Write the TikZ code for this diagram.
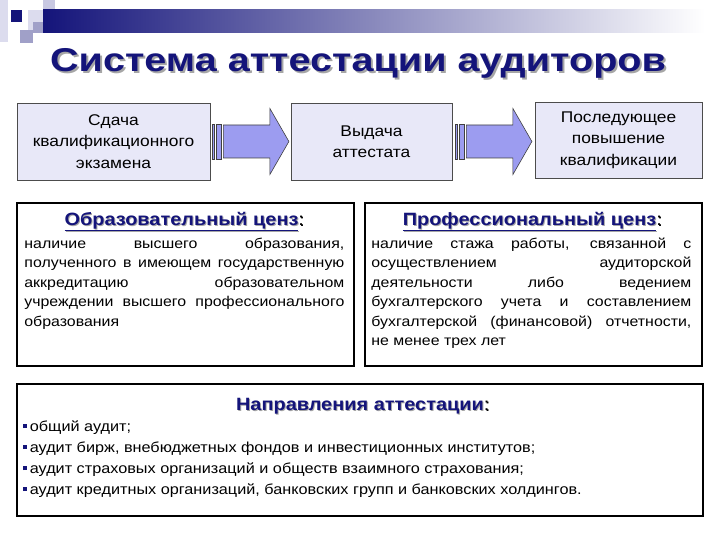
\documentclass[tikz,border=0pt]{standalone}
\usepackage{fontspec}
\setmainfont{Liberation Sans}[FakeStretch=1.12]
\newfontfamily\titlefont{Liberation Sans}[FakeStretch=1.2]
\usetikzlibrary{calc}
\definecolor{navy}{HTML}{14147A}
\definecolor{boxfill}{HTML}{E8E8F8}
\definecolor{arrowfill}{HTML}{9C9CF0}
\definecolor{sqlight}{HTML}{DCDCEE}
\definecolor{sqmid}{HTML}{A0A0C8}
\definecolor{sqpale}{HTML}{C8C8E2}
\newcommand\blockarrow[1]{%
  \begin{scope}[shift={#1}]
    \draw[arrowstyle] (0,-17.5) rectangle (2.5,17.5);
    \draw[arrowstyle] (4,-17.5) rectangle (9.5,17.5);
    \draw[arrowstyle] (11.5,-16.5) -- (58,-16.5) -- (58,-33) -- (77,0) -- (58,33) -- (58,16.5) -- (11.5,16.5) -- cycle;
  \end{scope}}
\newcommand\hdtext[1]{\underline{#1}}
\begin{document}
\begin{tikzpicture}[x=1pt,y=-1pt,
  arrowstyle/.style={draw=black!75, line width=0.6pt, fill=arrowfill},
  topbox/.style={draw=black!70, line width=0.8pt, fill=boxfill, align=center, inner sep=0pt,
    font=\fontsize{15.5}{21.5}\selectfont},
  infobox/.style={draw=black, line width=1.6pt, fill=white, inner sep=0pt},
  heading/.style={anchor=base, inner sep=0pt, font=\bfseries\fontsize{17.8}{20}\selectfont},
  bodytext/.style={anchor=north west, inner sep=0pt, align=justify,
    font=\fontsize{14.2}{19.4}\selectfont},
  listtext/.style={anchor=base west, inner sep=0pt, font=\fontsize{14.5}{21}\selectfont}
]
\useasboundingbox (0,0) rectangle (720,540);
% decoration
\fill[sqlight] (0,0) rectangle (8,42);
\fill[sqpale] (43,0) rectangle (55,12);
\fill[sqlight] (28,10) rectangle (43,30);
\fill[sqmid] (20,30) rectangle (33,43);
\fill[sqmid] (33,22) rectangle (43,33);
\shade[left color=navy, right color=white] (43,10) rectangle (705,33);
\fill[navy] (11,10) rectangle (22,22);
% title
\node[anchor=base, inner sep=0pt, text=black!35, font=\titlefont\bfseries\fontsize{33}{36}\selectfont] at (360,74) {Система аттестации аудиторов};
\node[anchor=base, inner sep=0pt, text=navy, font=\titlefont\bfseries\fontsize{33}{36}\selectfont] (title) at (358,72) {Система аттестации аудиторов};
% top boxes
\node[topbox, minimum width=193, minimum height=77] (b1) at (113.5,141.5) {Сдача\\квалификационного\\экзамена};
\node[topbox, minimum width=161, minimum height=77] (b2) at (371.5,141.5) {Выдача\\аттестата};
\node[topbox, minimum width=167, minimum height=76] (b3) at (618.5,140) {Последующее\\повышение\\квалификации};
\blockarrow{($(b1.east)+(1.5,0)$)}
\blockarrow{($(b2.east)+(2.5,0)$)}
% info boxes
\node[infobox, minimum width=337, minimum height=163] (obr) at (185.5,284.5) {};
\node[infobox, minimum width=337, minimum height=163] (prof) at (533.5,284.5) {};
\node[infobox, minimum width=686, minimum height=132] (napr) at (360,450) {};
% headings
\node[heading, text=black!35] at ($(obr.north)+(-3,24)$) {\hdtext{Образовательный ценз}\rlap{\mdseries\textcolor{black}{:}}};
\node[heading, text=navy] (h1) at ($(obr.north)+(-4,23)$) {\hdtext{Образовательный ценз}\rlap{\mdseries\textcolor{black}{:}}};
\node[heading, text=black!35] at ($(prof.north)+(-3,24)$) {\hdtext{Профессиональный ценз}\rlap{\mdseries\textcolor{black}{:}}};
\node[heading, text=navy] (h2) at ($(prof.north)+(-4,23)$) {\hdtext{Профессиональный ценз}\rlap{\mdseries\textcolor{black}{:}}};
\node[heading, text=black!35] at ($(napr.north)+(1,28)$) {Направления аттестации\rlap{\mdseries\textcolor{black}{:}}};
\node[heading, text=navy] (h3) at ($(napr.north)+(0,27)$) {Направления аттестации\rlap{\mdseries\textcolor{black}{:}}};
% body texts
\node[bodytext, text width=320] (t1) at ($(obr.north west)+(8,32.5)$) {\hyphenpenalty=10000\strut наличие высшего образования,\linebreak полученного в имеющем государственную\linebreak аккредитацию образовательном\linebreak учреждении высшего профессионального\linebreak образования};
\node[bodytext, text width=320] (t2) at ($(prof.north west)+(7,32.5)$) {\hyphenpenalty=10000\strut наличие стажа работы, связанной с\linebreak осуществлением аудиторской\linebreak деятельности либо ведением\linebreak бухгалтерского учета и составлением\linebreak бухгалтерской (финансовой) отчетности,\linebreak не менее трех лет};
% list
\node[listtext] (l1) at ($(napr.west)+(7,-19)$) {\textcolor{navy}{\rule[3pt]{4pt}{4pt}}\,общий аудит;};
\node[listtext] (l2) at ($(napr.west)+(7,2)$) {\textcolor{navy}{\rule[3pt]{4pt}{4pt}}\,аудит бирж, внебюджетных фондов и инвестиционных институтов;};
\node[listtext] (l3) at ($(napr.west)+(7,23)$) {\textcolor{navy}{\rule[3pt]{4pt}{4pt}}\,аудит страховых организаций и обществ взаимного страхования;};
\node[listtext] (l4) at ($(napr.west)+(7,44)$) {\textcolor{navy}{\rule[3pt]{4pt}{4pt}}\,аудит кредитных организаций, банковских групп и банковских холдингов.};
\end{tikzpicture}
\end{document}
